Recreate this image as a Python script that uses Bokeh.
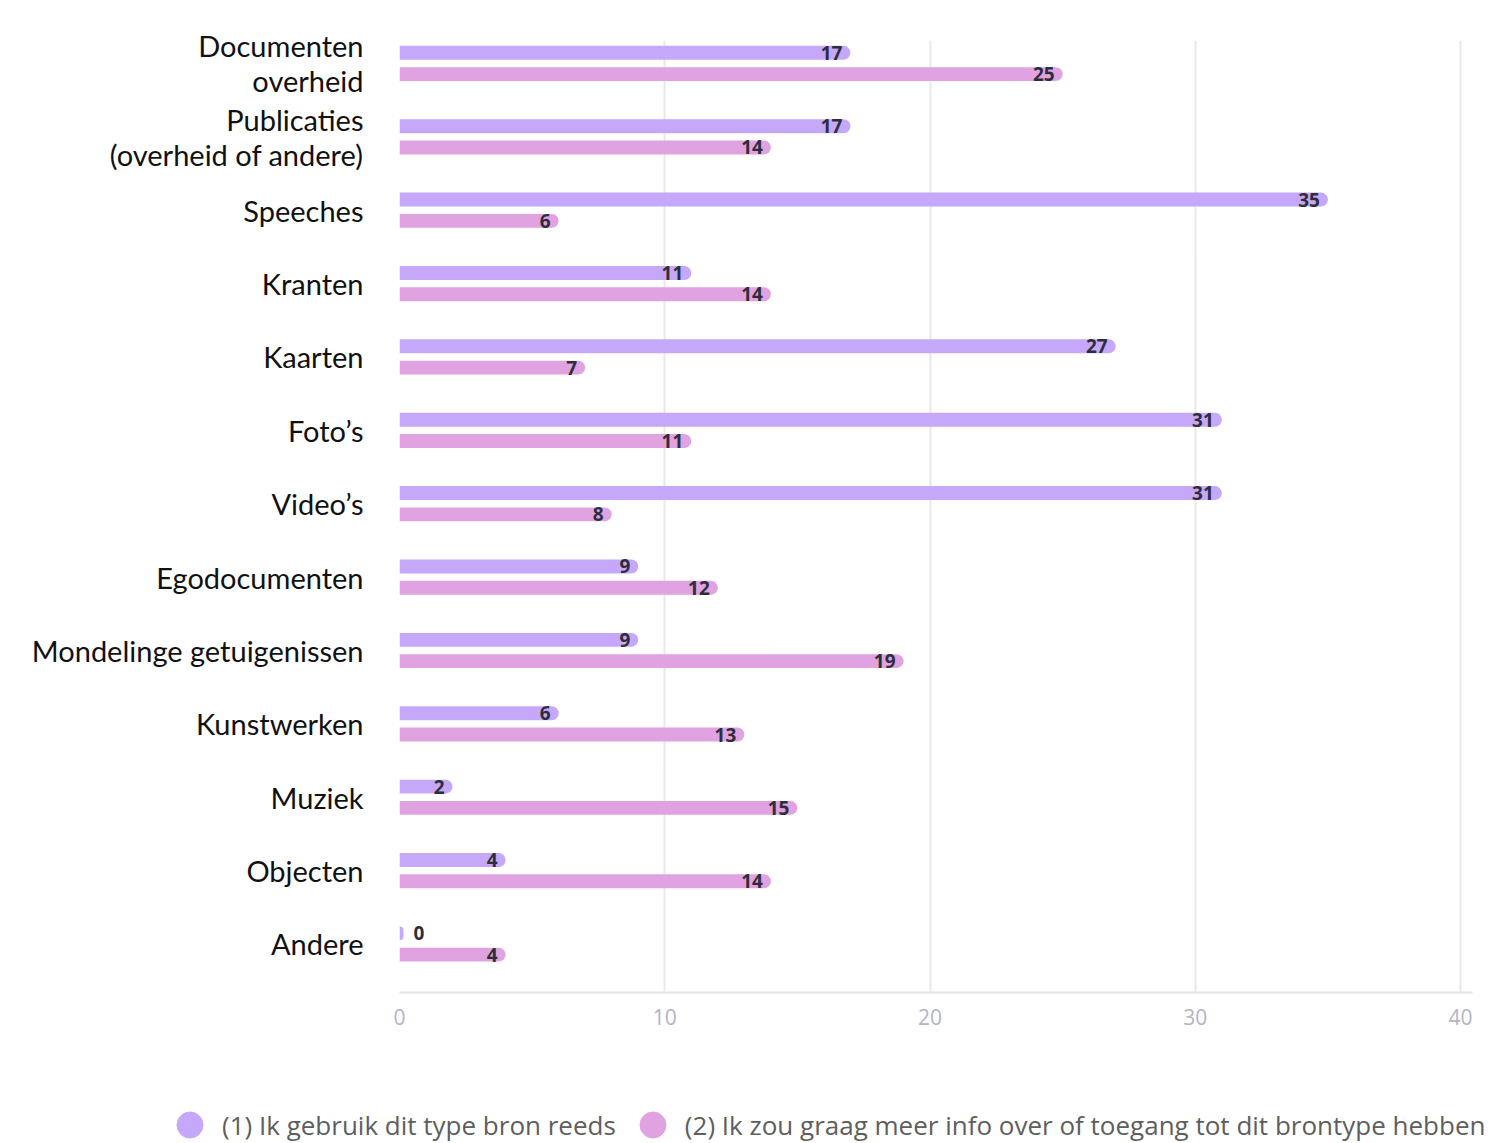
import numpy as np
from bokeh.plotting import figure
from bokeh.layouts import column
from bokeh.models import Range1d, FixedTicker, Legend, LegendItem, ColumnDataSource
from bokeh.core.properties import value
from bokeh.embed import file_html
from bokeh.resources import INLINE

categories = ["Documenten\noverheid", "Publicaties\n(overheid of andere)", "Speeches", "Kranten",
              "Kaarten", "Foto’s", "Video’s", "Egodocumenten", "Mondelinge getuigenissen",
              "Kunstwerken", "Muziek", "Objecten", "Andere"]
series1_name = "(1) Ik gebruik dit type bron reeds"
series2_name = "(2) Ik zou graag meer info over of toegang tot dit brontype hebben"
series1 = [17, 17, 35, 11, 27, 31, 31, 9, 9, 6, 2, 4, 0]
series2 = [25, 14, 6, 14, 7, 11, 8, 12, 19, 13, 15, 14, 4]
x_ticks = [0, 10, 20, 30, 40]

C1 = "#C5A8FA"
C2 = "#E0A2E0"
FONT = "Lato"
FONT2 = "Open Sans"

pos = np.arange(len(categories))
BAR_H = 0.19
OFF = 0.145

p = figure(width=1502, height=1048, output_backend="svg", toolbar_location=None,
           x_range=Range1d(0, 40.45), y_range=Range1d(len(categories) - 1 + 0.661, -0.313),
           min_border_left=399, min_border_right=30, min_border_top=40, min_border_bottom=56)
p.outline_line_color = None
p.background_fill_color = "white"
p.frame_align = False

def make_src(vals, dy):
    v = np.array(vals, dtype=float)
    lab_align = ["right" if x > 0 else "left" for x in v]
    lab_off = [-8 if x > 0 else 14 for x in v]
    return ColumnDataSource(dict(y=pos + dy, v=v, right=np.maximum(v, 0.15),
                                 lab=[str(int(x)) for x in v], align=lab_align, xoff=lab_off))

s1 = make_src(series1, -OFF)
s2 = make_src(series2, OFF)

r1 = p.hbar(y="y", left=0, right="right", height=BAR_H, source=s1, color=C1,
            line_color=None, border_radius=(0, 7, 7, 0))
r2 = p.hbar(y="y", left=0, right="right", height=BAR_H, source=s2, color=C2,
            line_color=None, border_radius=(0, 7, 7, 0))

for s in (s1, s2):
    p.text(x="v", y="y", text="lab", source=s, text_align="align", x_offset="xoff",
           text_baseline="middle", text_font=value(FONT2), text_font_size="19px",
           text_font_style="bold", text_color="#2e2e3a")

# axes
p.xaxis.ticker = FixedTicker(ticks=x_ticks)
p.xaxis.axis_line_color = "#e4e4ec"
p.xaxis.axis_line_width = 2
p.xaxis.major_tick_line_color = None
p.xaxis.minor_tick_line_color = None
p.xaxis.major_label_text_color = "#b4b4c4"
p.xaxis.major_label_text_font = FONT2
p.xaxis.major_label_text_font_size = "21px"
p.xaxis.major_label_standoff = 10

p.yaxis.ticker = FixedTicker(ticks=list(pos))
p.yaxis.major_label_overrides = {int(i): c for i, c in zip(pos, categories)}
p.yaxis.axis_line_color = None
p.yaxis.major_tick_line_color = None
p.yaxis.minor_tick_line_color = None
p.yaxis.major_label_text_font = FONT
p.yaxis.major_label_text_font_size = "29px"
p.yaxis.major_label_text_line_height = 1.0
p.yaxis.major_label_text_color = "#111111"
p.yaxis.major_label_standoff = 30

p.xgrid.grid_line_color = "#e8e8ee"
p.xgrid.grid_line_width = 2
p.ygrid.grid_line_color = None

# legend figure
lf = figure(width=1502, height=93, output_backend="svg", toolbar_location=None,
            x_range=Range1d(0, 1), y_range=Range1d(0, 1),
            min_border_left=0, min_border_right=0, min_border_top=0, min_border_bottom=0)
lf.frame_align = False
lf.axis.visible = False
lf.grid.visible = False
lf.outline_line_color = None
d1 = lf.scatter(x=[np.nan], y=[np.nan], marker="circle", size=26, color=C1)
d2 = lf.scatter(x=[np.nan], y=[np.nan], marker="circle", size=26, color=C2)
legend = Legend(items=[LegendItem(label=series1_name, renderers=[d1]),
                       LegendItem(label=series2_name, renderers=[d2])],
                orientation="horizontal", location=(157, -16),
                label_text_font=FONT2, label_text_font_size="26px", label_text_color="#5e5e5e",
                glyph_width=65, glyph_height=65, label_standoff=-6, spacing=4,
                border_line_color=None, background_fill_alpha=0, margin=0, padding=0)
lf.add_layout(legend, "center")

layout = column(p, lf, spacing=0)
open("out.html", "w").write(file_html(layout, INLINE))
